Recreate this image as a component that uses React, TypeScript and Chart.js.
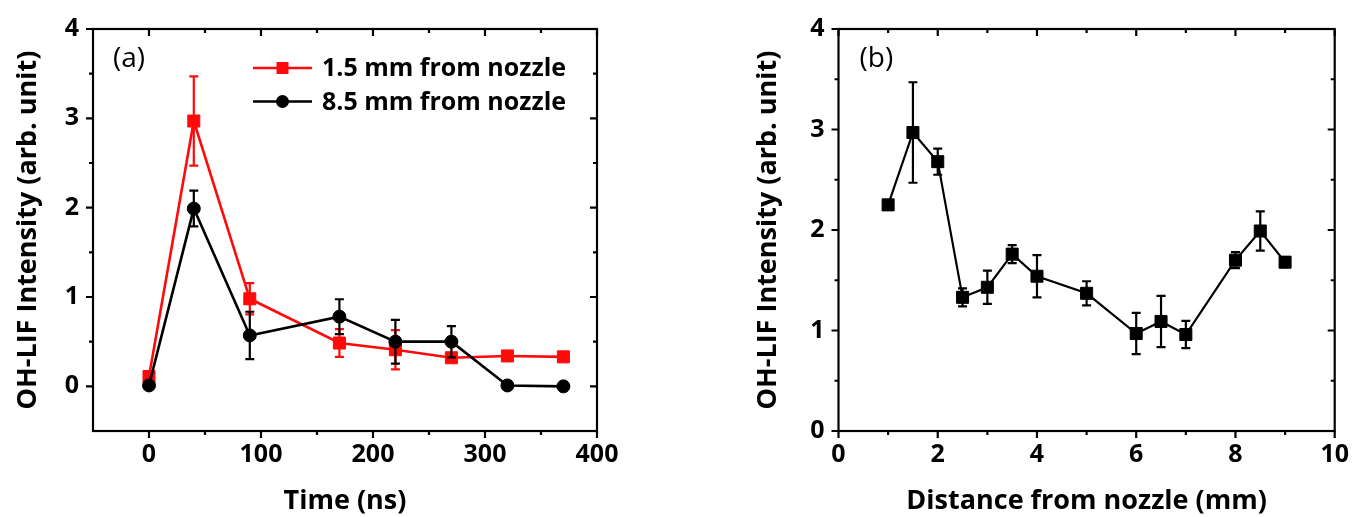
import React, { useEffect, useRef } from 'react';
import { Chart, registerables } from 'chart.js';

Chart.register(...registerables);

const FONT = '"Open Sans", "Liberation Sans", Arial, sans-serif';
const RED = '#ff0a0a';
const BLACK = '#000000';

// ---------- Panel (a) data ----------
const timeNs = [0, 40, 90, 170, 220, 270, 320, 370];
const near15 = [0.11, 2.97, 0.98, 0.485, 0.41, 0.32, 0.34, 0.33];
const near15Err = [0, 0.5, 0.175, 0.155, 0.22, 0.03, 0, 0];
const far85 = [0.01, 1.99, 0.57, 0.78, 0.5, 0.5, 0.01, 0.0];
const far85Err = [0, 0.2, 0.265, 0.195, 0.245, 0.175, 0, 0];
const legendLabelsA = ['1.5 mm from nozzle', '8.5 mm from nozzle'];

// ---------- Panel (b) data ----------
const distMm = [1, 1.5, 2, 2.5, 3, 3.5, 4, 5, 6, 6.5, 7, 8, 8.5, 9];
const intensityB = [2.25, 2.97, 2.68, 1.33, 1.43, 1.76, 1.54, 1.37, 0.97, 1.09, 0.96, 1.7, 1.99, 1.68];
const intensityBErr = [0, 0.5, 0.13, 0.09, 0.165, 0.09, 0.21, 0.12, 0.205, 0.255, 0.135, 0.08, 0.195, 0.05];

// ---------- Texts & ticks ----------
const panelLabels = ['(a)', '(b)'];
const xTitleA = 'Time (ns)';
const xTitleB = 'Distance from nozzle (mm)';
const yTitle = 'OH-LIF Intensity (arb. unit)';
const xTicksA = [0, 100, 200, 300, 400];
const xMinorA = [50, 150, 250, 350];
const yTicksA = [0, 1, 2, 3, 4];
const yMinorA = [0.5, 1.5, 2.5, 3.5];
const xTicksB = [0, 2, 4, 6, 8, 10];
const xMinorB = [1, 3, 5, 7, 9];
const yTicksB = [0, 1, 2, 3, 4];
const yMinorB = [0.5, 1.5, 2.5, 3.5];

const framePlugin = {
  id: 'frame',
  beforeDatasetsDraw(chart: any, _a: any, opts: any) {
    const { ctx, chartArea: ca, scales } = chart;
    const xs = scales.x;
    const ys = scales.y;
    ctx.save();
    ctx.strokeStyle = '#000';
    ctx.lineWidth = 2.2;
    ctx.beginPath();
    const seg = (x1: number, y1: number, x2: number, y2: number) => {
      ctx.moveTo(x1, y1);
      ctx.lineTo(x2, y2);
    };
    const doX = (vals: number[], len: number) =>
      vals.forEach((v) => {
        const p = xs.getPixelForValue(v);
        seg(p, ca.bottom, p, ca.bottom + len);
        seg(p, ca.top, p, ca.top + len);
      });
    const doY = (vals: number[], len: number) =>
      vals.forEach((v) => {
        const p = ys.getPixelForValue(v);
        seg(ca.left - len, p, ca.left, p);
        seg(ca.right - len, p, ca.right, p);
      });
    doX(opts.xMajor || [], 7);
    doX(opts.xMinor || [], 4);
    doY(opts.yMajor || [], 7);
    doY(opts.yMinor || [], 4);
    ctx.stroke();
    ctx.strokeRect(ca.left, ca.top, ca.right - ca.left, ca.bottom - ca.top);
    ctx.restore();
  },
};

const errorBarPlugin = {
  id: 'errorBars',
  afterDatasetDraw(chart: any, args: any) {
    const ds = chart.data.datasets[args.index];
    const errs: number[] | undefined = ds.errors;
    if (!errs) return;
    const ctx = chart.ctx;
    const ys = chart.scales.y;
    ctx.save();
    ctx.strokeStyle = ds.borderColor;
    ctx.lineWidth = 2.2;
    ctx.beginPath();
    args.meta.data.forEach((pt: any, i: number) => {
      const e = errs[i];
      if (!e) return;
      const v = ds.data[i].y;
      const yt = ys.getPixelForValue(v + e);
      const yb = ys.getPixelForValue(v - e);
      ctx.moveTo(pt.x, yt);
      ctx.lineTo(pt.x, yb);
      ctx.moveTo(pt.x - 4.5, yt);
      ctx.lineTo(pt.x + 4.5, yt);
      ctx.moveTo(pt.x - 4.5, yb);
      ctx.lineTo(pt.x + 4.5, yb);
    });
    ctx.stroke();
    ctx.restore();
  },
};

const drawMarker = (ctx: any, style: string, r: number, x: number, y: number, color: string) => {
  ctx.fillStyle = color;
  ctx.beginPath();
  if (style === 'rect') {
    const s = Math.SQRT1_2 * r;
    ctx.rect(x - s, y - s, 2 * s, 2 * s);
  } else {
    ctx.arc(x, y, r, 0, Math.PI * 2);
  }
  ctx.fill();
};

const legendPlugin = {
  id: 'inlineLegend',
  afterDraw(chart: any, _a: any, opts: any) {
    if (!opts || !opts.show) return;
    const ctx = chart.ctx;
    ctx.save();
    chart.data.datasets.forEach((ds: any, i: number) => {
      const y = opts.y + i * opts.dy;
      ctx.strokeStyle = ds.borderColor;
      ctx.lineWidth = ds.borderWidth;
      ctx.beginPath();
      ctx.moveTo(opts.x, y);
      ctx.lineTo(opts.x + opts.len, y);
      ctx.stroke();
      drawMarker(ctx, ds.pointStyle, ds.pointRadius, opts.x + opts.len / 2, y, ds.borderColor);
      ctx.fillStyle = '#000';
      ctx.font = `bold ${opts.size}px ${FONT}`;
      ctx.textAlign = 'left';
      ctx.textBaseline = 'middle';
      ctx.fillText(ds.label, opts.x + opts.len + opts.gap, y + 1);
    });
    ctx.restore();
  },
};

const panelLabelPlugin = {
  id: 'panelLabel',
  afterDraw(chart: any, _a: any, opts: any) {
    if (!opts || !opts.text) return;
    const ctx = chart.ctx;
    ctx.save();
    ctx.fillStyle = '#000';
    ctx.font = `normal 28px ${FONT}`;
    ctx.textAlign = 'left';
    ctx.textBaseline = 'middle';
    ctx.fillText(opts.text, chart.chartArea.left + opts.dx, chart.chartArea.top + opts.dy);
    ctx.restore();
  },
};

const tickFont = { family: FONT, size: 25, weight: 'bold' as const };
const titleFont = { family: FONT, size: 27, weight: 'bold' as const };

function makeConfig(panel: 'a' | 'b'): any {
  const isA = panel === 'a';
  const datasets = isA
    ? [
        {
          label: legendLabelsA[0],
          data: timeNs.map((t, i) => ({ x: t, y: near15[i] })),
          errors: near15Err,
          borderColor: RED,
          backgroundColor: RED,
          borderWidth: 2.6,
          pointStyle: 'rect',
          pointRadius: 8.5,
          pointBorderWidth: 1,
          order: 2,
        },
        {
          label: legendLabelsA[1],
          data: timeNs.map((t, i) => ({ x: t, y: far85[i] })),
          errors: far85Err,
          borderColor: BLACK,
          backgroundColor: BLACK,
          borderWidth: 2.6,
          pointStyle: 'circle',
          pointRadius: 6.5,
          pointBorderWidth: 1,
          order: 1,
        },
      ]
    : [
        {
          label: 'OH-LIF',
          data: distMm.map((d, i) => ({ x: d, y: intensityB[i] })),
          errors: intensityBErr,
          borderColor: BLACK,
          backgroundColor: BLACK,
          borderWidth: 2.2,
          pointStyle: 'rect',
          pointRadius: 8.5,
          pointBorderWidth: 1,
        },
      ];

  const xMajor = isA ? xTicksA : xTicksB;
  const yMajor = isA ? yTicksA : yTicksB;
  const yAxisWidth = isA ? 93 : 159.5;

  return {
    type: 'line',
    data: { datasets },
    plugins: [framePlugin, errorBarPlugin, legendPlugin, panelLabelPlugin],
    options: {
      animation: false,
      responsive: false,
      maintainAspectRatio: false,
      layout: { padding: { left: 0, top: 25, right: isA ? 82 : 16.5, bottom: 0 } },
      elements: { line: { tension: 0 } },
      scales: {
        x: {
          type: 'linear',
          min: isA ? -50 : 0,
          max: isA ? 400 : 10,
          border: { display: false },
          grid: { display: false, drawTicks: false, tickLength: 0 },
          afterBuildTicks: (s: any) => {
            s.ticks = xMajor.map((v) => ({ value: v }));
          },
          afterFit: (s: any) => {
            s.height = 86;
          },
          ticks: { font: tickFont, color: '#000', padding: 9, maxRotation: 0, autoSkip: false },
          title: {
            display: true,
            text: isA ? xTitleA : xTitleB,
            font: titleFont,
            color: '#000',
            padding: { top: 0, bottom: -1 },
          },
        },
        y: {
          type: 'linear',
          min: isA ? -0.5 : 0,
          max: 4,
          border: { display: false },
          grid: { display: false, drawTicks: false, tickLength: 0 },
          afterBuildTicks: (s: any) => {
            s.ticks = yMajor.map((v) => ({ value: v }));
          },
          afterFit: (s: any) => {
            s.width = yAxisWidth;
          },
          ticks: { font: tickFont, color: '#000', padding: 14, autoSkip: false },
          title: {
            display: true,
            text: yTitle,
            font: titleFont,
            color: '#000',
            padding: { top: isA ? 12 : 73, bottom: 0 },
          },
        },
      },
      plugins: {
        legend: { display: false },
        tooltip: { enabled: false },
        frame: {
          xMajor,
          xMinor: isA ? xMinorA : xMinorB,
          yMajor,
          yMinor: isA ? yMinorA : yMinorB,
        },
        inlineLegend: isA ? { show: true, x: 253, y: 68, dy: 33.5, len: 59, gap: 10, size: 25 } : { show: false },
        panelLabel: { text: isA ? panelLabels[0] : panelLabels[1], dx: isA ? 20 : 21, dy: 30 },
      },
    },
  };
}

function Panel({ panel, left }: { panel: 'a' | 'b'; left: number }) {
  const ref = useRef<HTMLCanvasElement>(null);
  useEffect(() => {
    const chart = new Chart(ref.current as HTMLCanvasElement, makeConfig(panel));
    return () => chart.destroy();
  }, [panel]);
  return (
    <canvas
      ref={ref}
      width={679}
      height={517}
      style={{ position: 'absolute', left, top: 0, width: 679, height: 517 }}
    />
  );
}

export default function App() {
  return (
    <div style={{ position: 'absolute', left: 0, top: 0, width: 1358, height: 517, background: '#fff' }}>
      <Panel panel="a" left={0} />
      <Panel panel="b" left={679} />
    </div>
  );
}
